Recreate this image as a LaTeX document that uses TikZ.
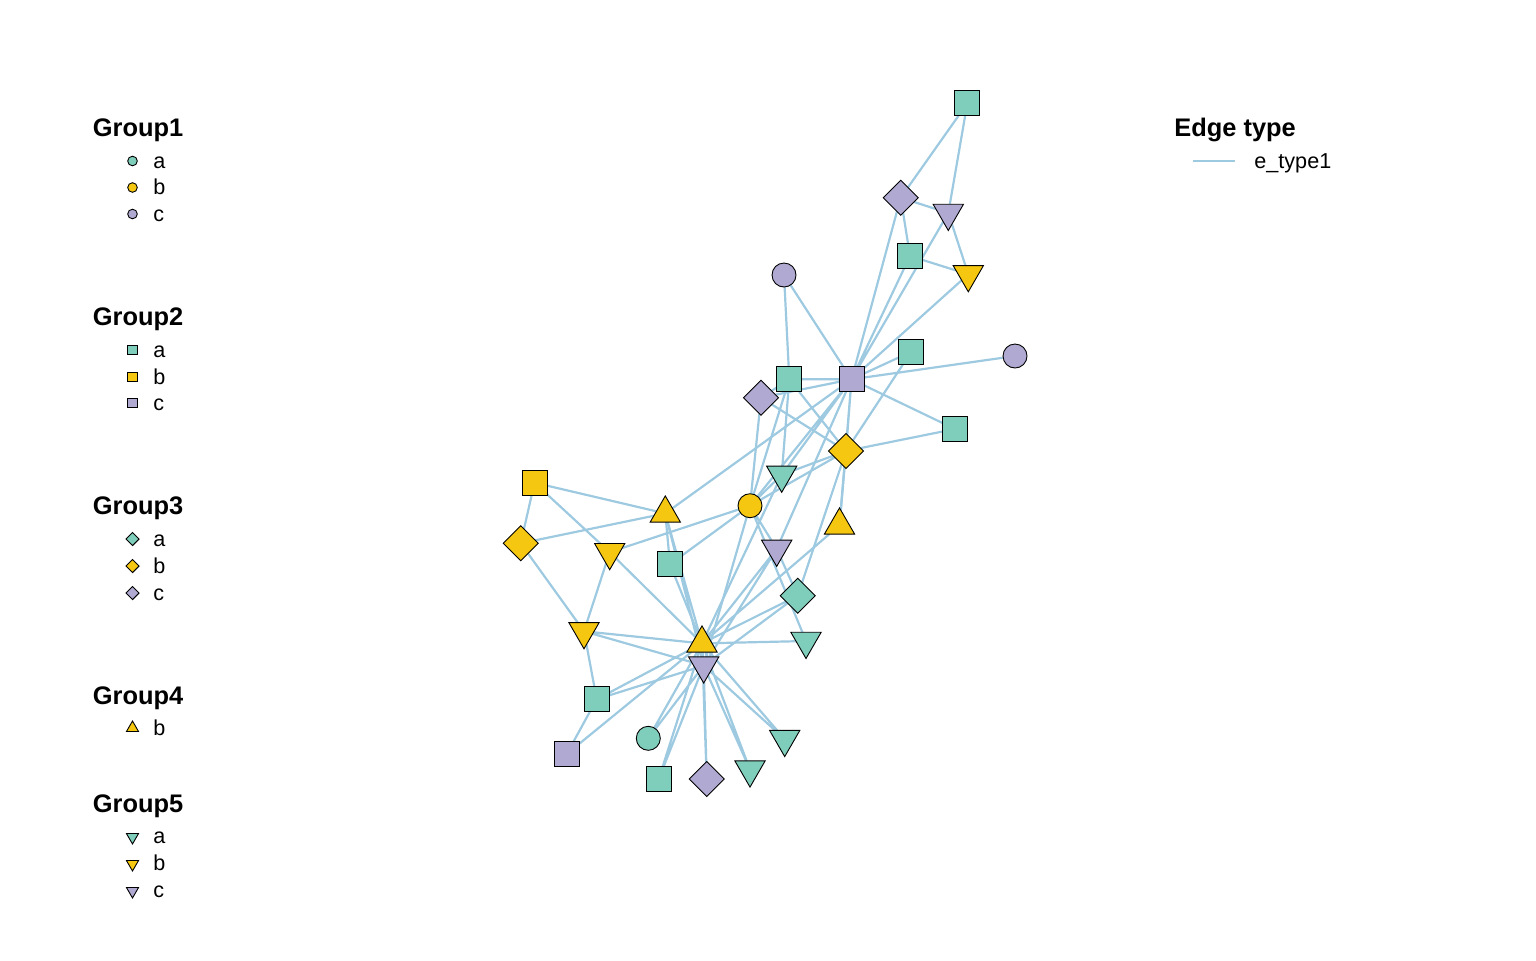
\documentclass[tikz,border=0pt]{standalone}
\usepackage{fontspec}
\setmainfont{Liberation Sans}
\usetikzlibrary{shapes.geometric,backgrounds}

\definecolor{grpa}{RGB}{127,205,187}
\definecolor{grpb}{RGB}{245,199,16}
\definecolor{grpc}{RGB}{176,170,210}
\definecolor{edgeblue}{RGB}{158,202,225}

\begin{document}
\begin{tikzpicture}[x=0.5pt,y=0.5pt,yscale=-1,xscale=1,
  vtx/.style={draw=black,line width=0.45pt,inner sep=0pt,outer sep=0pt},
  vsq/.style={vtx,rectangle,minimum size=12.5pt},
  vci/.style={vtx,circle,minimum size=12pt},
  vdi/.style={vtx,diamond,minimum size=17.5pt},
  vtu/.style={vtx,regular polygon,regular polygon sides=3,minimum size=17.5pt},
  vtd/.style={vtu,shape border rotate=180},
  ksq/.style={vtx,rectangle,minimum size=4.6pt},
  kci/.style={vtx,circle,minimum size=4.8pt},
  kdi/.style={vtx,diamond,minimum size=6.6pt},
  ktu/.style={vtx,regular polygon,regular polygon sides=3,minimum size=7pt},
  ktd/.style={ktu,shape border rotate=180},
  etype/.style={draw=edgeblue,line width=1.1pt},
  gtitle/.style={anchor=base west,inner sep=0pt,font=\bfseries\fontsize{12.7}{15}\selectfont},
  gitem/.style={anchor=base west,inner sep=0pt,font=\fontsize{10.8}{13}\selectfont}]
  %set diagram size: 1536 x 960
  \useasboundingbox (0,0) rectangle (1536,960);

  %Shape: Vertices
  \node[vsq,fill=grpc] (v1) at (851.5,379.3) {};
  \node[vdi,fill=grpb] (v2) at (846,451) {};
  \node[vci,fill=grpb] (v3) at (750,505.7) {};
  \node[vsq,fill=grpa] (v4) at (789.3,379.3) {};
  \node[vtd,fill=grpb] (v5) at (968.3,274.3) {};
  \node[vdi,fill=grpc] (v6) at (900.7,197.7) {};
  \node[vtd,fill=grpc] (v7) at (948.3,213) {};
  \node[vdi,fill=grpc] (v8) at (761,397.7) {};
  \node[vtd,fill=grpc] (v9) at (776.7,548.9) {};
  \node[vtd,fill=grpa] (v10) at (806,641) {};
  \node[vsq,fill=grpa] (v11) at (910,256) {};
  \node[vci,fill=grpc] (v12) at (1015,356) {};
  \node[vci,fill=grpc] (v13) at (784,275) {};
  \node[vtd,fill=grpa] (v14) at (781.7,474.8) {};
  \node[vci,fill=grpa] (v15) at (648.3,738.3) {};
  \node[vsq,fill=grpa] (v16) at (658.7,779) {};
  \node[vsq,fill=grpa] (v17) at (967.3,103.3) {};
  \node[vsq,fill=grpa] (v18) at (911.3,351.7) {};
  \node[vdi,fill=grpc] (v19) at (706.7,779) {};
  \node[vtu,fill=grpb] (v20) at (839.5,525.4) {};
  \node[vtd,fill=grpa] (v21) at (750,769.6) {};
  \node[vsq,fill=grpa] (v22) at (955,429) {};
  \node[vtd,fill=grpa] (v23) at (784.7,739.1) {};
  \node[vtd,fill=grpb] (v24) at (584,631.3) {};
  \node[vsq,fill=grpb] (v25) at (534.5,482.7) {};
  \node[vdi,fill=grpb] (v26) at (520.7,543.3) {};
  \node[vsq,fill=grpc] (v27) at (566.7,754) {};
  \node[vtd,fill=grpb] (v28) at (609.7,552.2) {};
  \node[vsq,fill=grpa] (v29) at (670,564.3) {};
  \node[vsq,fill=grpa] (v30) at (596.7,699.3) {};
  \node[vdi,fill=grpa] (v31) at (797.7,595.7) {};
  \node[vtu,fill=grpb] (v32) at (665.3,513.4) {};
  \node[vtd,fill=grpc] (v33) at (703.7,665.6) {};
  \node[vtu,fill=grpb] (v34) at (702,643.4) {};

  %Straight Lines: edges
  \begin{scope}[on background layer]
  \draw[etype] (v1) -- (v2) (v1) -- (v3) (v1) -- (v4) (v1) -- (v5) (v1) -- (v6) (v1) -- (v7) (v1) -- (v8) (v1) -- (v9) (v1) -- (v11) (v1) -- (v12) (v1) -- (v13) (v1) -- (v14) (v1) -- (v18) (v1) -- (v20) (v1) -- (v22) (v1) -- (v32) ;
  \draw[etype] (v2) -- (v3) (v2) -- (v4) (v2) -- (v8) (v2) -- (v14) (v2) -- (v18) (v2) -- (v20) (v2) -- (v22) (v2) -- (v31) ;
  \draw[etype] (v3) -- (v4) (v3) -- (v8) (v3) -- (v9) (v3) -- (v10) (v3) -- (v14) (v3) -- (v28) (v3) -- (v29) (v3) -- (v33) ;
  \draw[etype] (v4) -- (v8) (v4) -- (v13) (v4) -- (v14) ;
  \draw[etype] (v5) -- (v7) (v5) -- (v11) (v6) -- (v7) (v6) -- (v11) (v6) -- (v17) (v7) -- (v17) ;
  \draw[etype] (v9) -- (v31) (v9) -- (v33) (v9) -- (v34) (v10) -- (v34) (v14) -- (v34) (v20) -- (v34) ;
  \draw[etype] (v15) -- (v33) (v15) -- (v34) (v16) -- (v33) (v16) -- (v34) (v19) -- (v33) (v19) -- (v34) ;
  \draw[etype] (v21) -- (v33) (v21) -- (v34) (v23) -- (v33) (v23) -- (v34) ;
  \draw[etype] (v24) -- (v26) (v24) -- (v28) (v24) -- (v30) (v24) -- (v33) (v24) -- (v34) ;
  \draw[etype] (v25) -- (v26) (v25) -- (v28) (v25) -- (v32) (v26) -- (v32) (v27) -- (v30) (v27) -- (v34) ;
  \draw[etype] (v28) -- (v34) (v29) -- (v32) (v29) -- (v34) (v30) -- (v33) (v30) -- (v34) ;
  \draw[etype] (v31) -- (v33) (v31) -- (v34) (v32) -- (v33) (v32) -- (v34) (v33) -- (v34) ;
  \end{scope}

  % Text Node
  \node[gtitle] (g1t) at (92.5,136) {Group1};
  \node[kci,fill=grpa] (g1a) at (132.5,161) {};
  \node[kci,fill=grpb] (g1b) at (132.5,187.5) {};
  \node[kci,fill=grpc] (g1c) at (132.5,214) {};
  \node[gitem] (g1al) at (153,168) {a};
  \node[gitem] (g1bl) at (153,194.5) {b};
  \node[gitem] (g1cl) at (153,221) {c};
  % Text Node
  \node[gtitle] (g2t) at (92.5,325) {Group2};
  \node[ksq,fill=grpa] (g2a) at (132.5,350) {};
  \node[ksq,fill=grpb] (g2b) at (132.5,377) {};
  \node[ksq,fill=grpc] (g2c) at (132.5,403) {};
  \node[gitem] (g2al) at (153,357) {a};
  \node[gitem] (g2bl) at (153,384) {b};
  \node[gitem] (g2cl) at (153,410) {c};
  % Text Node
  \node[gtitle] (g3t) at (92.5,514) {Group3};
  \node[kdi,fill=grpa] (g3a) at (132.5,539) {};
  \node[kdi,fill=grpb] (g3b) at (132.5,566) {};
  \node[kdi,fill=grpc] (g3c) at (132.5,593) {};
  \node[gitem] (g3al) at (153,546) {a};
  \node[gitem] (g3bl) at (153,573) {b};
  \node[gitem] (g3cl) at (153,600) {c};
  % Text Node
  \node[gtitle] (g4t) at (92.5,704) {Group4};
  \node[ktu,fill=grpb] (g4b) at (132.5,728) {};
  \node[gitem] (g4bl) at (153,735) {b};
  % Text Node
  \node[gtitle] (g5t) at (92.5,812) {Group5};
  \node[ktd,fill=grpa] (g5a) at (132.5,837) {};
  \node[ktd,fill=grpb] (g5b) at (132.5,864) {};
  \node[ktd,fill=grpc] (g5c) at (132.5,891) {};
  \node[gitem] (g5al) at (153,843) {a};
  \node[gitem] (g5bl) at (153,870) {b};
  \node[gitem] (g5cl) at (153,897) {c};

  % Text Node
  \node[gtitle] (ett) at (1174,136) {Edge type};
  \coordinate (ek1) at (1193,161);
  \coordinate (ek2) at (1235,161);
  \draw[etype] (ek1) -- (ek2);
  \node[gitem] (etl) at (1254,168) {e\_type1};

\end{tikzpicture}
\end{document}
